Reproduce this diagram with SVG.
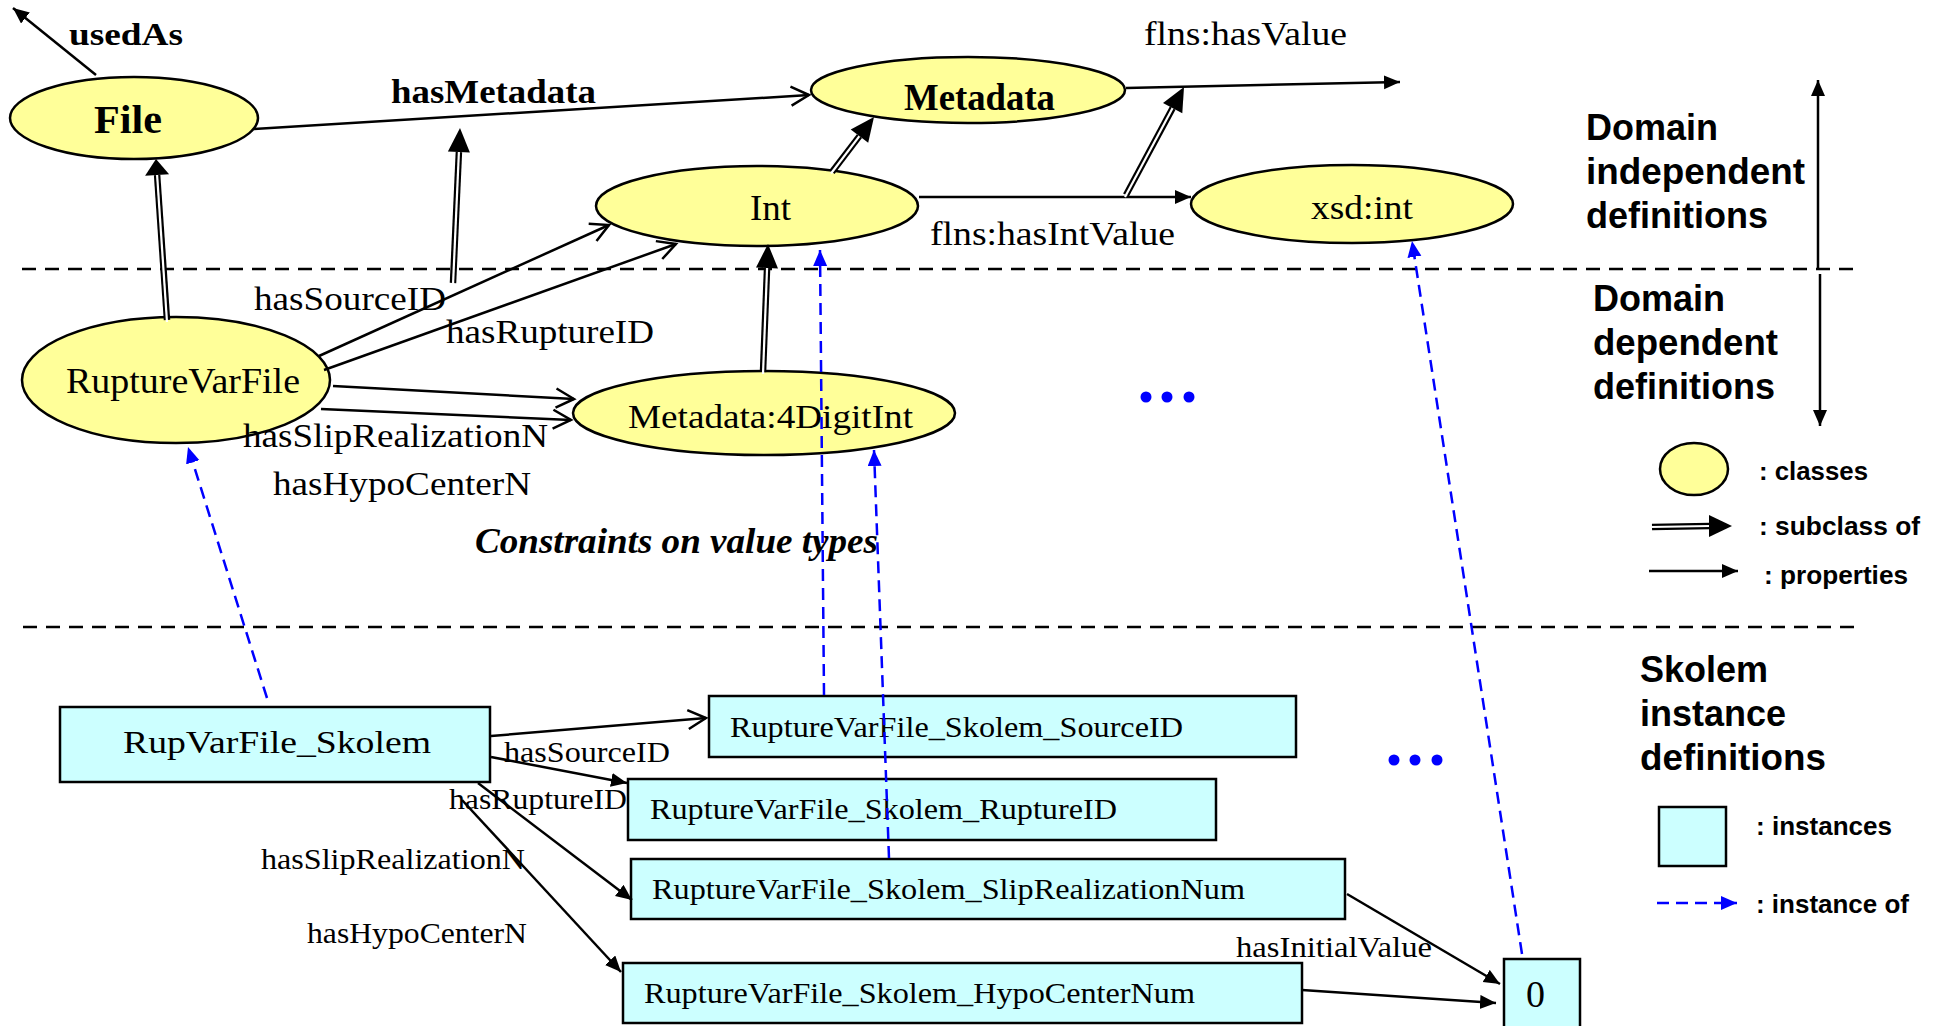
<svg xmlns="http://www.w3.org/2000/svg" width="1939" height="1026" viewBox="0 0 1939 1026">
  <style>
    .cls { fill: #ffff99; stroke: #000; stroke-width: 2.5; }
    .inst { fill: #ccffff; stroke: #000; stroke-width: 2.5; }
    .divider { stroke: #000; stroke-width: 2.5; stroke-dasharray: 14 9; fill: none; }
    .pfill { stroke: #000; stroke-width: 2.5; fill: none; marker-end: url(#headFilled); }
    .popen { stroke: #000; stroke-width: 2.5; fill: none; marker-end: url(#headOpen); }
    .sub-outer { stroke: #000; stroke-width: 6.5; fill: none; }
    .sub-inner { stroke: #fff; stroke-width: 2.2; fill: none; }
    .sub-head { fill: #000; }
    .iof { stroke: #0000ff; stroke-width: 2.5; stroke-dasharray: 12 7; fill: none; marker-end: url(#headBlue); }
    .dots { fill: #0000ff; }
    .serif { font-family: "Liberation Serif", "Times New Roman", serif; fill: #000; }
    .bold { font-weight: bold; }
    .bi { font-weight: bold; font-style: italic; }
    .sans { font-family: "Liberation Sans", Arial, sans-serif; font-weight: bold; fill: #000; }
  </style>
  <defs>
    <marker id="headFilled" markerUnits="userSpaceOnUse" markerWidth="18" markerHeight="16" refX="16" refY="7" orient="auto">
      <path d="M0,0 L16,7 L0,14 z" fill="#000"/>
    </marker>
    <marker id="headOpen" markerUnits="userSpaceOnUse" markerWidth="22" markerHeight="24" refX="19" refY="11" orient="auto">
      <path d="M1,1.5 L19,11 L1,20.5" fill="none" stroke="#000" stroke-width="2.5"/>
    </marker>
    <marker id="headBlue" markerUnits="userSpaceOnUse" markerWidth="18" markerHeight="16" refX="16" refY="7" orient="auto">
      <path d="M0,0 L16,7 L0,14 z" fill="#0000ff"/>
    </marker>
  </defs>

  <rect x="0" y="0" width="1939" height="1026" fill="#fff"/>

  <!-- section dividers -->
  <g id="dividers">
    <line class="divider" x1="22" y1="269" x2="1862" y2="269"/>
    <line class="divider" x1="23" y1="627" x2="1862" y2="627"/>
  </g>

  <!-- class nodes -->
  <g id="node-File">
    <ellipse class="cls" cx="134" cy="118" rx="124" ry="41"/>
    <text class="serif bold" x="94" y="133" font-size="41" textLength="68" lengthAdjust="spacingAndGlyphs">File</text>
  </g>
  <g id="node-Metadata">
    <ellipse class="cls" cx="968" cy="90" rx="157" ry="33"/>
    <text class="serif bold" x="904" y="110" font-size="37" textLength="151" lengthAdjust="spacingAndGlyphs">Metadata</text>
  </g>
  <g id="node-Int">
    <ellipse class="cls" cx="757" cy="206" rx="161" ry="40"/>
    <text class="serif" x="750" y="220" font-size="35" textLength="41" lengthAdjust="spacingAndGlyphs">Int</text>
  </g>
  <g id="node-xsdint">
    <ellipse class="cls" cx="1352" cy="204" rx="161" ry="39"/>
    <text class="serif" x="1311" y="219" font-size="34" textLength="102" lengthAdjust="spacingAndGlyphs">xsd:int</text>
  </g>
  <g id="node-RuptureVarFile">
    <ellipse class="cls" cx="176" cy="380" rx="154" ry="63"/>
    <text class="serif" x="66" y="393" font-size="35" textLength="234" lengthAdjust="spacingAndGlyphs">RuptureVarFile</text>
  </g>
  <g id="node-4DigitInt">
    <ellipse class="cls" cx="764" cy="413" rx="191" ry="42"/>
    <text class="serif" x="628" y="428" font-size="34" textLength="285" lengthAdjust="spacingAndGlyphs">Metadata:4DigitInt</text>
  </g>

  <!-- instance nodes -->
  <g id="node-RupVarFile_Skolem">
    <rect class="inst" x="60" y="707" width="430" height="75"/>
    <text class="serif" x="123" y="753" font-size="32" textLength="308" lengthAdjust="spacingAndGlyphs">RupVarFile_Skolem</text>
  </g>
  <g id="node-SourceID">
    <rect class="inst" x="709" y="696" width="587" height="61"/>
    <text class="serif" x="730" y="737" font-size="30" textLength="453" lengthAdjust="spacingAndGlyphs">RuptureVarFile_Skolem_SourceID</text>
  </g>
  <g id="node-RuptureID">
    <rect class="inst" x="628" y="779" width="588" height="61"/>
    <text class="serif" x="650" y="819" font-size="30" textLength="467" lengthAdjust="spacingAndGlyphs">RuptureVarFile_Skolem_RuptureID</text>
  </g>
  <g id="node-SlipRealizationNum">
    <rect class="inst" x="631" y="859" width="714" height="60"/>
    <text class="serif" x="652" y="899" font-size="30" textLength="593" lengthAdjust="spacingAndGlyphs">RuptureVarFile_Skolem_SlipRealizationNum</text>
  </g>
  <g id="node-HypoCenterNum">
    <rect class="inst" x="623" y="963" width="679" height="60"/>
    <text class="serif" x="644" y="1003" font-size="30" textLength="551" lengthAdjust="spacingAndGlyphs">RuptureVarFile_Skolem_HypoCenterNum</text>
  </g>
  <g id="node-zero">
    <rect class="inst" x="1504" y="959" width="76" height="72"/>
    <text class="serif" x="1526" y="1007" font-size="37" textLength="19" lengthAdjust="spacingAndGlyphs">0</text>
  </g>

  <!-- connectors -->
  <g id="connectors">
    <!-- properties -->
    <line class="pfill" x1="96" y1="75" x2="13" y2="8"/>
    <line class="popen" x1="254" y1="129" x2="809" y2="95"/>
    <line class="pfill" x1="1126" y1="88" x2="1400" y2="82"/>
    <line class="pfill" x1="919" y1="197" x2="1191" y2="197"/>
    <line class="popen" x1="319" y1="356" x2="609" y2="225"/>
    <line class="popen" x1="324" y1="370" x2="676" y2="244"/>
    <line class="popen" x1="333" y1="386" x2="574" y2="399"/>
    <line class="popen" x1="321" y1="409" x2="571" y2="420"/>
    <line class="popen" x1="491" y1="736" x2="706" y2="718"/>
    <line class="pfill" x1="491" y1="757" x2="627" y2="783"/>
    <line class="pfill" x1="478" y1="783" x2="632" y2="900"/>
    <line class="pfill" x1="462" y1="800" x2="621" y2="972"/>
    <line class="pfill" x1="1347" y1="894" x2="1500" y2="984"/>
    <line class="pfill" x1="1302" y1="990" x2="1496" y2="1003"/>

    <!-- subclass of -->
    <g>
      <line class="sub-outer" x1="167" y1="320" x2="157.1" y2="175"/>
      <line class="sub-inner" x1="167" y1="322" x2="157.1" y2="175"/>
      <polygon class="sub-head" points="156,159 169.1,174.2 145.1,175.8"/>
    </g>
    <g>
      <line class="sub-outer" x1="453" y1="283" x2="458.9" y2="152"/>
      <line class="sub-inner" x1="453" y1="285" x2="458.9" y2="152"/>
      <polygon class="sub-head" points="460,128 469.9,152.5 447.9,151.5"/>
    </g>
    <g>
      <line class="sub-outer" x1="832" y1="172" x2="859.4" y2="136.1"/>
      <line class="sub-inner" x1="831" y1="173.5" x2="859.4" y2="136.1"/>
      <polygon class="sub-head" points="874,117 868.2,142.8 850.7,129.4"/>
    </g>
    <g>
      <line class="sub-outer" x1="1126" y1="195" x2="1172.65" y2="108.1"/>
      <line class="sub-inner" x1="1125" y1="197" x2="1172.65" y2="108.1"/>
      <polygon class="sub-head" points="1184,87 1182.3,113.3 1163,102.9"/>
    </g>
    <g>
      <line class="sub-outer" x1="763" y1="372" x2="767.06" y2="268"/>
      <line class="sub-inner" x1="763" y1="374" x2="767.06" y2="268"/>
      <polygon class="sub-head" points="768,244 778,268.4 756,267.6"/>
    </g>

    <!-- instance of -->
    <line class="iof" x1="267" y1="698" x2="188" y2="447"/>
    <line class="iof" x1="824" y1="695" x2="820" y2="250"/>
    <line class="iof" x1="889" y1="858" x2="874" y2="450"/>
    <line class="iof" x1="1522" y1="954" x2="1412" y2="241"/>
  </g>

  <!-- connector labels -->
  <g id="labels">
    <text class="serif bold" x="69" y="45" font-size="31" textLength="114" lengthAdjust="spacingAndGlyphs">usedAs</text>
    <text class="serif bold" x="391" y="103" font-size="34" textLength="205" lengthAdjust="spacingAndGlyphs">hasMetadata</text>
    <text class="serif" x="1144" y="45" font-size="34" textLength="203" lengthAdjust="spacingAndGlyphs">flns:hasValue</text>
    <text class="serif" x="930" y="245" font-size="34" textLength="245" lengthAdjust="spacingAndGlyphs">flns:hasIntValue</text>
    <text class="serif" x="254" y="310" font-size="34" textLength="192" lengthAdjust="spacingAndGlyphs">hasSourceID</text>
    <text class="serif" x="446" y="343" font-size="34" textLength="208" lengthAdjust="spacingAndGlyphs">hasRuptureID</text>
    <text class="serif" x="243" y="447" font-size="34" textLength="305" lengthAdjust="spacingAndGlyphs">hasSlipRealizationN</text>
    <text class="serif" x="273" y="495" font-size="34" textLength="258" lengthAdjust="spacingAndGlyphs">hasHypoCenterN</text>
    <text class="serif bi" x="475" y="553" font-size="35" textLength="403" lengthAdjust="spacingAndGlyphs">Constraints on value types</text>
    <text class="serif" x="504" y="762" font-size="29" textLength="166" lengthAdjust="spacingAndGlyphs">hasSourceID</text>
    <text class="serif" x="449" y="809" font-size="29" textLength="178" lengthAdjust="spacingAndGlyphs">hasRuptureID</text>
    <text class="serif" x="261" y="869" font-size="29" textLength="264" lengthAdjust="spacingAndGlyphs">hasSlipRealizationN</text>
    <text class="serif" x="307" y="943" font-size="29" textLength="220" lengthAdjust="spacingAndGlyphs">hasHypoCenterN</text>
    <text class="serif" x="1236" y="957" font-size="29" textLength="196" lengthAdjust="spacingAndGlyphs">hasInitialValue</text>
  </g>

  <!-- ellipsis marks -->
  <g id="ellipsis" class="dots">
    <circle cx="1146" cy="397" r="5.5"/>
    <circle cx="1167" cy="397" r="5.5"/>
    <circle cx="1189" cy="397" r="5.5"/>
    <circle cx="1394" cy="760" r="5.5"/>
    <circle cx="1415" cy="760" r="5.5"/>
    <circle cx="1437" cy="760" r="5.5"/>
  </g>

  <!-- section titles -->
  <g id="section-titles">
    <text class="sans" x="1586" y="140" font-size="36">Domain</text>
    <text class="sans" x="1586" y="184" font-size="36" textLength="219" lengthAdjust="spacingAndGlyphs">independent</text>
    <text class="sans" x="1586" y="228" font-size="36">definitions</text>
    <text class="sans" x="1593" y="311" font-size="36">Domain</text>
    <text class="sans" x="1593" y="355" font-size="36" textLength="185" lengthAdjust="spacingAndGlyphs">dependent</text>
    <text class="sans" x="1593" y="399" font-size="36">definitions</text>
    <text class="sans" x="1640" y="682" font-size="36">Skolem</text>
    <text class="sans" x="1640" y="726" font-size="36">instance</text>
    <text class="sans" x="1640" y="770" font-size="36" textLength="186" lengthAdjust="spacingAndGlyphs">definitions</text>
    <line class="pfill" x1="1818" y1="270" x2="1818" y2="80"/>
    <line class="pfill" x1="1820" y1="274" x2="1820" y2="426"/>
  </g>

  <!-- legend -->
  <g id="legend">
    <ellipse class="cls" cx="1694" cy="469" rx="34" ry="26"/>
    <text class="sans" x="1759" y="480" font-size="26" textLength="109" lengthAdjust="spacingAndGlyphs">: classes</text>
    <line class="sub-outer" x1="1652" y1="527" x2="1710" y2="526"/>
    <line class="sub-inner" x1="1650" y1="527" x2="1710" y2="526"/>
    <polygon class="sub-head" points="1709,515 1732,526 1709,537"/>
    <text class="sans" x="1759" y="535" font-size="26" textLength="161" lengthAdjust="spacingAndGlyphs">: subclass of</text>
    <line class="pfill" x1="1649" y1="571" x2="1738" y2="571"/>
    <text class="sans" x="1764" y="584" font-size="26" textLength="144" lengthAdjust="spacingAndGlyphs">: properties</text>
    <rect class="inst" x="1659" y="807" width="67" height="59"/>
    <text class="sans" x="1756" y="835" font-size="26" textLength="136" lengthAdjust="spacingAndGlyphs">: instances</text>
    <line class="iof" x1="1657" y1="903" x2="1737" y2="903"/>
    <text class="sans" x="1756" y="913" font-size="26" textLength="153" lengthAdjust="spacingAndGlyphs">: instance of</text>
  </g>
</svg>
